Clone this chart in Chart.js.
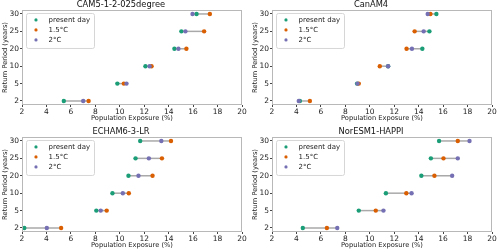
<!DOCTYPE html>
<html>
<head>
<meta charset="utf-8">
<script src="https://cdn.jsdelivr.net/npm/chart.js@4/dist/chart.umd.min.js"></script>
<style>
html,body{margin:0;padding:0;background:#fff;width:500px;height:252px;overflow:hidden;}
.p{position:absolute;width:250px;height:126px;}
</style>
</head>
<body>
<div class="p" style="left:0;top:0"><canvas id="c0" width="250" height="126"></canvas></div>
<div class="p" style="left:250px;top:0"><canvas id="c1" width="250" height="126"></canvas></div>
<div class="p" style="left:0;top:127px"><canvas id="c2" width="250" height="126"></canvas></div>
<div class="p" style="left:250px;top:127px"><canvas id="c3" width="250" height="126"></canvas></div>
<script>
// Return period categories (bottom to top)
const returnPeriods = ['2', '5', '10', '20', '25', '30'];
const seriesNames = ['present day', '1.5°C', '2°C'];
const seriesColors = ['#1b9e77', '#d95f02', '#7570b3'];
const modelNames = ['CAM5-1-2-025degree', 'CanAM4', 'ECHAM6-3-LR', 'NorESM1-HAPPI'];

// Population exposure (%) per return period
const cam5Present = [5.42, 9.80, 12.10, 14.47, 15.04, 16.28];
const cam5Warm15  = [7.45, 10.33, 12.60, 15.45, 16.90, 17.37];
const cam5Warm20  = [7.01, 10.55, 12.44, 14.80, 15.37, 15.95];

const canamPresent = [4.28, 8.96, 11.50, 14.30, 14.88, 15.45];
const canamWarm15  = [5.10, 9.10, 10.82, 13.01, 13.67, 14.96];
const canamWarm20  = [4.19, 9.00, 11.50, 13.45, 14.41, 14.74];

const echamPresent = [2.19, 8.08, 9.40, 10.71, 11.29, 11.67];
const echamWarm15  = [5.20, 8.93, 10.74, 12.68, 13.45, 14.19];
const echamWarm20  = [4.03, 8.44, 10.25, 11.53, 12.38, 13.40];

const noresmPresent = [4.52, 9.10, 11.32, 14.22, 15.00, 15.67];
const noresmWarm15  = [6.49, 10.49, 12.99, 15.29, 16.03, 17.20];
const noresmWarm20  = [7.34, 11.12, 13.42, 16.74, 17.20, 18.16];

const xTicks = [2, 4, 6, 8, 10, 12, 14, 16, 18, 20];

const panels = [
  [cam5Present, cam5Warm15, cam5Warm20],
  [canamPresent, canamWarm15, canamWarm20],
  [echamPresent, echamWarm15, echamWarm20],
  [noresmPresent, noresmWarm15, noresmWarm20]
];

const FONT = "'DejaVu Sans', sans-serif";
Chart.defaults.font.family = FONT;
Chart.defaults.color = '#222';

const framePlugin = {
  id: 'frame',
  afterDatasetsDraw(chart) {
    const a = chart.chartArea, ctx = chart.ctx;
    ctx.save();
    ctx.strokeStyle = '#b8b8b8';
    ctx.lineWidth = 1;
    ctx.strokeRect(Math.round(a.left) + 0.5, Math.round(a.top) + 0.5,
                   Math.round(a.right - a.left) - 1, Math.round(a.bottom - a.top) - 1);
    ctx.restore();
  },
  afterDraw(chart) {
    const a = chart.chartArea, ctx = chart.ctx;
    ctx.save();
    const x = a.left + 4.5, y = a.top + 3.5, w = 68, h = 35;
    ctx.beginPath();
    if (ctx.roundRect) ctx.roundRect(x, y, w, h, 2); else ctx.rect(x, y, w, h);
    ctx.fillStyle = 'rgba(255,255,255,0.85)';
    ctx.fill();
    ctx.strokeStyle = '#d6d6d6';
    ctx.lineWidth = 1;
    ctx.stroke();
    ctx.font = '7px ' + FONT;
    ctx.textBaseline = 'middle';
    ctx.textAlign = 'left';
    for (let i = 0; i < seriesNames.length; i++) {
      const cy = a.top + 10 + i * 10;
      ctx.beginPath();
      ctx.arc(a.left + 14, cy, 1.6, 0, Math.PI * 2);
      ctx.fillStyle = seriesColors[i];
      ctx.fill();
      ctx.fillStyle = '#222';
      ctx.fillText(seriesNames[i], a.left + 26.5, cy + 0.5);
    }
    ctx.restore();
  }
};

function makeChart(id, idx) {
  const series = panels[idx];
  const datasets = [];
  // grey connectors
  for (let r = 0; r < returnPeriods.length; r++) {
    const vals = series.map(s => s[r]);
    datasets.push({
      type: 'line',
      data: [{x: Math.min(...vals), y: r}, {x: Math.max(...vals), y: r}],
      borderColor: '#a9a9a9',
      borderWidth: 1.5,
      pointRadius: 0,
      showLine: true,
      order: 10
    });
  }
  for (let s = 0; s < series.length; s++) {
    datasets.push({
      type: 'scatter',
      label: seriesNames[s],
      data: series[s].map((v, r) => ({x: v, y: r})),
      backgroundColor: seriesColors[s],
      borderColor: seriesColors[s],
      borderWidth: 0,
      pointRadius: 2.2,
      order: 3 - s
    });
  }
  new Chart(document.getElementById(id), {
    type: 'scatter',
    data: {datasets},
    options: {
      responsive: false,
      animation: false,
      devicePixelRatio: 1,
      layout: {padding: {left: 0, right: 8, top: 0, bottom: 0}},
      plugins: {
        legend: {display: false},
        tooltip: {enabled: false},
        title: {
          display: true,
          text: modelNames[idx],
          font: {size: 8.3, weight: 'normal'},
          color: '#111',
          padding: {top: 0, bottom: 0},
          lineHeight: 11 / 8.3
        }
      },
      scales: {
        x: {
          type: 'linear',
          min: 2, max: 20,
          afterBuildTicks(scale) { scale.ticks = xTicks.map(v => ({value: v})); },
          afterFit(scale) { scale.height = 21; },
          grid: {drawOnChartArea: false, drawTicks: true, tickLength: 2, color: '#444'},
          border: {display: false},
          ticks: {font: {size: 7.5}, padding: 1, maxRotation: 0, color: '#222'},
          title: {display: true, text: 'Population Exposure (%)', font: {size: 6.7}, padding: {top: 0, bottom: 3.5}, color: '#222'}
        },
        y: {
          type: 'linear',
          min: -0.23, max: 5.23,
          afterBuildTicks(scale) { scale.ticks = returnPeriods.map((_, i) => ({value: i})); },
          afterFit(scale) { scale.width = 22; },
          grid: {drawOnChartArea: false, drawTicks: true, tickLength: 2, color: '#444'},
          border: {display: false},
          ticks: {font: {size: 7.5}, padding: 1, color: '#222', callback: (v) => returnPeriods[v]},
          title: {display: true, text: 'Return Period (years)', font: {size: 6.7}, padding: {top: 1, bottom: 0}, color: '#222'}
        }
      }
    },
    plugins: [framePlugin]
  });
}
['c0', 'c1', 'c2', 'c3'].forEach((id, i) => makeChart(id, i));
</script>
</body>
</html>
